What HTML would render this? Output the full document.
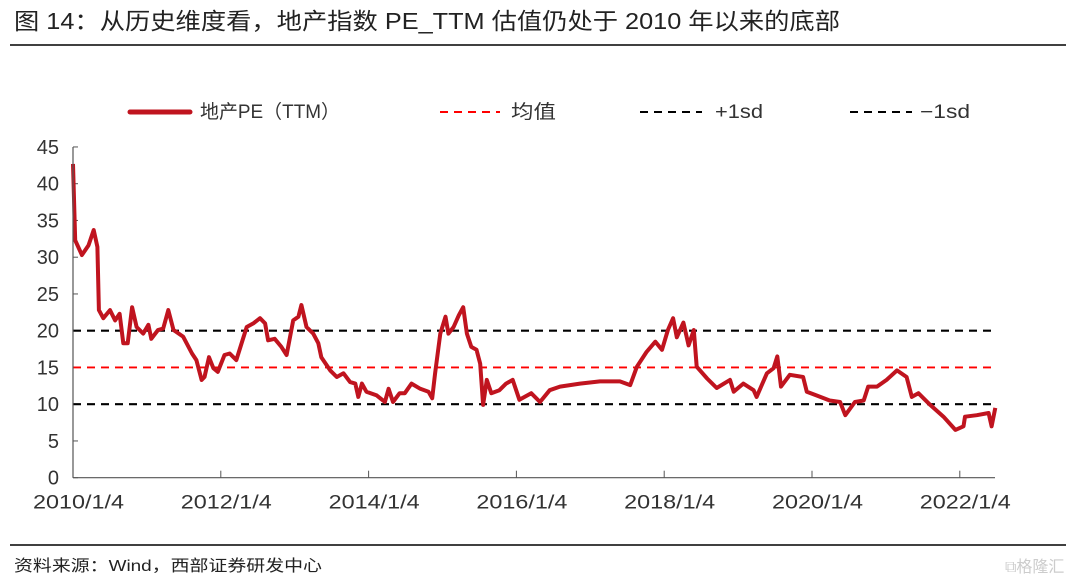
<!DOCTYPE html>
<html><head><meta charset="utf-8"><style>
body{margin:0;width:1080px;height:581px;background:#fff;overflow:hidden;font-family:"Liberation Sans","Noto Sans CJK SC",sans-serif}
</style></head><body>
<svg width="1080" height="581" viewBox="0 0 1080 581" xmlns="http://www.w3.org/2000/svg">
<text x="14" y="29" font-size="23" fill="#222" textLength="826" lengthAdjust="spacingAndGlyphs" font-family="Liberation Sans, Noto Sans CJK SC, sans-serif">图 14：从历史维度看，地产指数 PE_TTM 估值仍处于 2010 年以来的底部</text>
<line x1="10" y1="45" x2="1066" y2="45" stroke="#000" stroke-width="1.5"/>
<g font-size="19" fill="#333" font-family="Liberation Sans, Noto Sans CJK SC, sans-serif">
<g><line x1="130" y1="112" x2="190" y2="112" stroke="#c0141f" stroke-width="5" stroke-linecap="round"/><text x="200" y="118" textLength="140" lengthAdjust="spacingAndGlyphs">地产PE（TTM）</text></g>
<g><line x1="440" y1="112" x2="500" y2="112" stroke="#f00" stroke-width="2" stroke-dasharray="8,6"/><text x="511" y="118" textLength="45" lengthAdjust="spacingAndGlyphs">均值</text></g>
<g><line x1="640" y1="112" x2="702" y2="112" stroke="#000" stroke-width="2" stroke-dasharray="8,6"/><text x="715" y="118" textLength="48" lengthAdjust="spacingAndGlyphs">+1sd</text></g>
<g><line x1="850" y1="112" x2="912" y2="112" stroke="#000" stroke-width="2" stroke-dasharray="8,6"/><text x="920" y="118" textLength="50" lengthAdjust="spacingAndGlyphs">−1sd</text></g>
</g>
<g id="plot"></g>
<line x1="10" y1="545" x2="1066" y2="545" stroke="#000" stroke-width="1.5"/>
<text x="14" y="571" font-size="16" fill="#222" textLength="308" lengthAdjust="spacingAndGlyphs">资料来源：Wind，西部证券研发中心</text>
<text x="1005" y="572" font-size="16" fill="#ccc">⧉格隆汇</text>
</svg>
<script>
const years=[2010,2012,2014,2016,2018,2020,2022];
const yTicks=[0,5,10,15,20,25,30,35,40,45];
const refValues=[15,20,10];
const dates=[2010.0,2010.03,2010.12,2010.21,2010.28,2010.33,2010.35,2010.41,2010.5,2010.57,2010.63,2010.68,2010.74,2010.8,2010.86,2010.95,2011.02,2011.06,2011.15,2011.22,2011.29,2011.36,2011.49,2011.61,2011.67,2011.74,2011.78,2011.84,2011.9,2011.96,2012.05,2012.12,2012.21,2012.35,2012.44,2012.53,2012.6,2012.64,2012.73,2012.82,2012.89,2012.98,2013.05,2013.09,2013.16,2013.25,2013.32,2013.36,2013.48,2013.57,2013.66,2013.75,2013.82,2013.86,2013.91,2013.97,2014.11,2014.22,2014.27,2014.33,2014.42,2014.49,2014.58,2014.7,2014.81,2014.86,2014.9,2014.97,2015.04,2015.08,2015.15,2015.22,2015.28,2015.33,2015.39,2015.46,2015.51,2015.55,2015.6,2015.66,2015.77,2015.86,2015.95,2016.04,2016.2,2016.32,2016.45,2016.59,2016.86,2017.13,2017.4,2017.54,2017.63,2017.76,2017.88,2017.97,2018.05,2018.12,2018.17,2018.26,2018.33,2018.4,2018.44,2018.58,2018.71,2018.89,2018.94,2019.07,2019.21,2019.25,2019.39,2019.48,2019.53,2019.58,2019.7,2019.88,2019.93,2020.06,2020.24,2020.38,2020.45,2020.58,2020.7,2020.76,2020.88,2021.01,2021.15,2021.28,2021.35,2021.44,2021.6,2021.78,2021.94,2022.05,2022.07,2022.23,2022.39,2022.43,2022.48];
const peValues=[42.7,32.3,30.3,31.6,33.7,31.4,22.8,21.7,22.8,21.4,22.3,18.3,18.3,23.2,20.5,19.6,20.8,18.9,20.1,20.3,22.8,20.1,19.2,16.9,16,13.3,13.7,16.4,14.9,14.4,16.7,16.9,16,20.5,21,21.7,21,18.7,18.9,17.8,16.7,21.4,21.9,23.5,20.5,19.6,18.3,16.4,14.6,13.7,14.2,13,12.8,11,12.8,11.7,11.2,10.3,12.1,10.3,11.5,11.5,12.8,12.1,11.7,10.8,14.2,19.6,21.9,19.6,20.5,22.1,23.2,19.6,17.8,17.4,15.5,9.9,13.3,11.5,11.9,12.8,13.3,10.6,11.5,10.3,11.9,12.4,12.8,13.1,13.1,12.6,15.1,17.1,18.5,17.4,20.1,21.7,19.1,21.1,18,20.1,15.1,13.5,12.2,13.3,11.7,12.8,11.9,11,14.2,14.9,16.5,12.4,14,13.7,11.7,11.2,10.5,10.3,8.5,10.3,10.5,12.4,12.4,13.3,14.6,13.7,11,11.5,9.9,8.3,6.5,7,8.3,8.5,8.8,7,9.5];
const NS='http://www.w3.org/2000/svg';
const X0=73,PXY=73.9,Y0=477.7,PXV=7.35,XR=995;
const xs=t=>X0+(t-2010)*PXY, ys=v=>Y0-v*PXV;
const g=document.getElementById('plot');
function mk(tag,attrs){const e=document.createElementNS(NS,tag);for(const k in attrs)e.setAttribute(k,attrs[k]);g.appendChild(e);return e;}
yTicks.forEach(v=>{
 const t=mk('text',{x:X0-14,y:ys(v)+7,'text-anchor':'end','font-size':20,fill:'#333'});t.textContent=v;
 
 
 const l=mk('line',{x1:X0,x2:X0+5,y1:ys(v),y2:ys(v),stroke:'#555'});
 
 
});
years.forEach(y=>{
 const l=mk('line',{x1:xs(y),x2:xs(y),y1:Y0,y2:Y0-7,stroke:'#555'});
 
 
 const t=mk('text',{x:xs(y)-40,y:Y0+31,'font-size':19,fill:'#333',textLength:91,lengthAdjust:'spacingAndGlyphs'});t.textContent=y+'/1/4';
 
 
});
const names=['mean-line','plus-1sd-line','minus-1sd-line'],cols=['#f00','#000','#000'];
refValues.forEach((v,i)=>{
 const l=mk('line',{x1:X0,x2:XR-2,y1:ys(v),y2:ys(v),stroke:cols[i],'stroke-width':i?2.2:1.8,'stroke-dasharray':'8,6'});
 
 
});
const p=mk('polyline',{points:dates.map((d,i)=>xs(d).toFixed(1)+','+ys(peValues[i]).toFixed(1)).join(' '),fill:'none',stroke:'#c0141f','stroke-width':4,'stroke-linejoin':'round'});


const ya=mk('line',{x1:X0,x2:X0,y1:ys(45),y2:Y0,stroke:'#555','stroke-width':1.2});


const xa=mk('line',{x1:X0,x2:XR,y1:Y0,y2:Y0,stroke:'#555','stroke-width':1.2});


</script>
</body></html>
